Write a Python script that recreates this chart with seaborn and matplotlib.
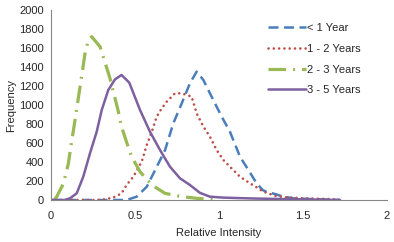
import matplotlib
matplotlib.use("Agg")
import matplotlib.pyplot as plt
import seaborn as sns
import pandas as pd

sns.set_style("white")
plt.rcParams['font.family'] = ['Liberation Sans', 'DejaVu Sans']

labels = ["< 1 Year", "1 - 2 Years", "2 - 3 Years", "3 - 5 Years"]

x_lt1 = [0.0, 0.45, 0.51, 0.57, 0.63, 0.679, 0.728, 0.778, 0.827, 0.867, 0.907, 0.956, 1.016,
         1.065, 1.125, 1.175, 1.224, 1.26, 1.284, 1.34, 1.37, 1.44, 1.58, 1.72]
y_lt1 = [0, 0, 35, 140, 351, 526, 807, 1017, 1228, 1351, 1263, 1088, 877,
         719, 456, 316, 175, 105, 85, 60, 42, 18, 8, 0]

x_12 = [0.0, 0.3, 0.37, 0.42, 0.45, 0.49, 0.54, 0.57, 0.60, 0.629, 0.659, 0.689, 0.738, 0.778,
        0.837, 0.867, 0.907, 0.946, 0.986, 1.026, 1.075, 1.125, 1.185, 1.234, 1.26, 1.294, 1.33,
        1.40, 1.50, 1.66, 1.72]
y_12 = [0, 0, 25, 70, 158, 245, 403, 579, 719, 877, 965, 1035, 1123, 1123,
        1088, 912, 772, 666, 526, 421, 333, 245, 175, 123, 90, 70, 45,
        28, 18, 10, 0]

x_23 = [0.02, 0.034, 0.073, 0.103, 0.118, 0.143, 0.173, 0.202, 0.222, 0.242, 0.292, 0.351, 0.40,
        0.42, 0.45, 0.48, 0.53, 0.60, 0.679, 0.778, 0.867, 1.0]
y_23 = [0, 35, 168, 380, 560, 842, 1193, 1537, 1684, 1719, 1614, 1281, 937,
        772, 608, 456, 298, 158, 70, 35, 18, 0]

x_35 = [0.0, 0.08, 0.113, 0.153, 0.192, 0.232, 0.272, 0.302, 0.341, 0.381, 0.42, 0.466, 0.53,
        0.589, 0.649, 0.708, 0.768, 0.827, 0.887, 0.946, 1.026, 1.22, 1.72]
y_35 = [0, 0, 18, 70, 245, 491, 719, 947, 1158, 1270, 1316, 1235, 947,
        719, 526, 351, 228, 158, 75, 35, 25, 15, 0]

colors = ["#4A7EBB", "#BE4B48", "#98B954", "#7D60A0"]
dashes = [(4, 2.2), (0.01, 2.0), (5.5, 2.2, 0.6, 2.2), None]
widths = [1.8, 1.9, 2.3, 1.8]

series = [(x_lt1, y_lt1), (x_12, y_12), (x_23, y_23), (x_35, y_35)]

fig = plt.figure(figsize=(3.94, 2.42), dpi=100)
ax = fig.add_axes([51/394, 1-200/242, 336/394, 190/242])

for (xs, ys), lab, c, d, w in zip(series, labels, colors, dashes, widths):
    df = pd.DataFrame({"x": xs, "y": ys})
    sns.lineplot(data=df, x="x", y="y", ax=ax, color=c, lw=w, label=lab, sort=False)
    l = ax.get_lines()[-1]
    if d is not None:
        l.set_dashes(d)
        l.set_dash_capstyle('round' if lab == "1 - 2 Years" else 'butt')
    l.set_solid_joinstyle('round')

ax.set_xlim(0, 2)
ax.set_ylim(0, 2000)
ax.set_xticks([0, 0.5, 1, 1.5, 2])
ax.set_xticklabels(["0", "0.5", "1", "1.5", "2"])
ax.set_yticks(range(0, 2001, 200))
ax.set_xlabel("Relative Intensity", fontsize=8, labelpad=5)
ax.set_ylabel("Frequency", fontsize=8, labelpad=2)
ax.tick_params(axis='both', labelsize=8, length=3, width=0.8, color="#868686", direction='out', pad=2)
ax.tick_params(axis='x', pad=5)
for s in ["top", "right"]:
    ax.spines[s].set_visible(False)
for s in ["left", "bottom"]:
    ax.spines[s].set_color("#868686")
    ax.spines[s].set_linewidth(0.8)

leg = ax.legend(loc="upper left", bbox_to_anchor=((268-51)/336, (200-23)/190), frameon=False, fontsize=8,
                handlelength=3.4, handletextpad=0.15, labelspacing=0.97, borderaxespad=0, borderpad=0)

fig.savefig("out.png", dpi=100)
